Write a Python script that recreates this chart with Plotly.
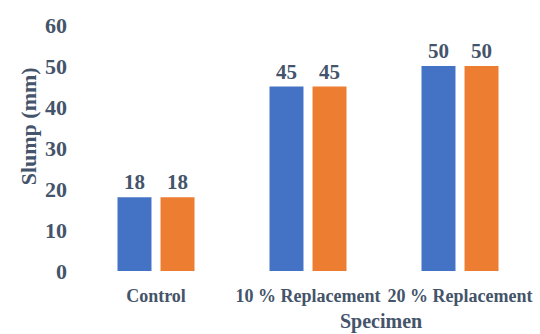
import plotly.graph_objects as go

categories = ["Control", "10 % Replacement", "20 % Replacement"]
series_a = [18, 45, 50]
series_b = [18, 45, 50]
y_ticks = [0, 10, 20, 30, 40, 50, 60]

BLUE = "#4472C4"
ORANGE = "#ED7D31"
TEXT = "#44546A"
FONT = "Liberation Serif"

fig = go.Figure()
for vals, color in ((series_a, BLUE), (series_b, ORANGE)):
    fig.add_trace(go.Bar(
        x=categories, y=vals, marker_color=color, marker_line_width=0,
        text=[str(v) for v in vals], textposition="outside",
        textfont=dict(family=FONT, size=21, color=TEXT, weight="bold"),
        cliponaxis=False, showlegend=False,
    ))

fig.update_layout(
    width=540, height=334,
    margin=dict(l=80, r=4, t=25, b=63),
    paper_bgcolor="white", plot_bgcolor="white",
    barmode="group", bargap=0.434, bargroupgap=0.21,
    font=dict(family=FONT, color=TEXT, weight="bold"),
    xaxis=dict(
        showgrid=False, showline=False, zeroline=False,
        tickangle=0, automargin=False,
        tickfont=dict(family=FONT, size=18, color=TEXT, weight="bold"),
        ticklabelstandoff=12,
    ),
    yaxis=dict(
        range=[0, 60], tickvals=y_ticks, showgrid=False, showline=False,
        zeroline=False, automargin=False,
        tickfont=dict(family=FONT, size=22, color=TEXT, weight="bold"),
        ticklabelstandoff=12,
    ),
    annotations=[
        dict(text="Slump (mm)", textangle=-90, xref="paper", yref="paper",
             x=-0.113, y=0.59, xanchor="center", yanchor="middle",
             showarrow=False,
             font=dict(family=FONT, size=22, color=TEXT, weight="bold")),
        dict(text="Specimen", xref="paper", yref="paper",
             x=0.659, y=-0.205, xanchor="center", yanchor="middle",
             showarrow=False,
             font=dict(family=FONT, size=20, color=TEXT, weight="bold")),
    ],
)

fig.write_html("out.html")
